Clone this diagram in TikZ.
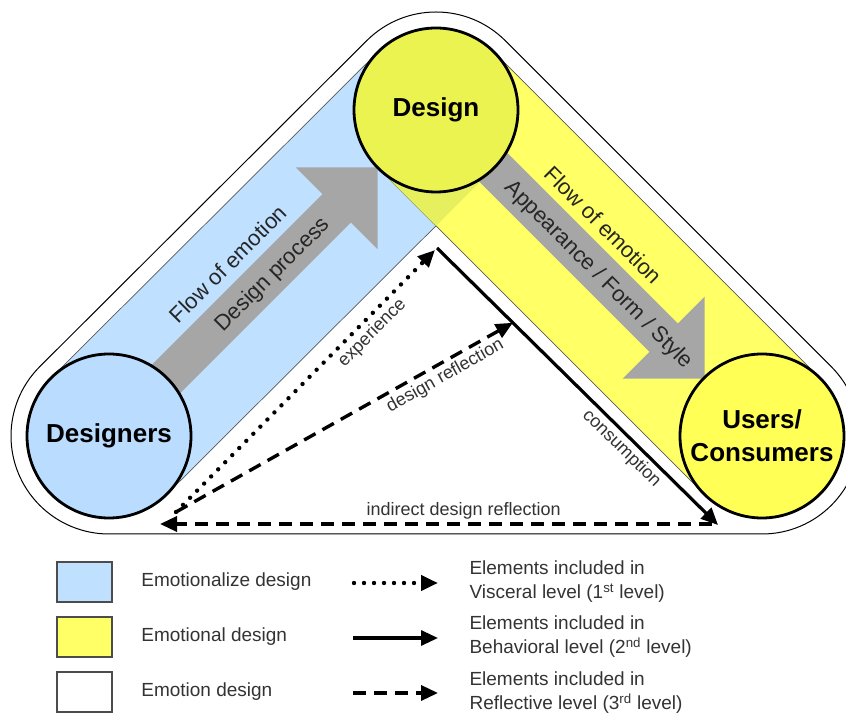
\documentclass[tikz,border=0pt]{standalone}
\usepackage{fontspec}
\setmainfont{Liberation Sans}
\usepackage{tikz}
\usetikzlibrary{arrows.meta, calc, positioning}
\usepackage{xcolor}

\definecolor{bandblue}{RGB}{192,224,255}
\definecolor{hubblue}{RGB}{185,220,255}
\definecolor{bandyellow}{RGB}{255,255,102}
\definecolor{hubyellow}{RGB}{255,255,85}
\definecolor{hubdesign}{RGB}{235,243,80}
\definecolor{overlapgreen}{RGB}{230,240,95}
\definecolor{flowgray}{RGB}{166,166,166}

\begin{document}
\begin{tikzpicture}[x=1pt,y=1pt,node distance=55pt,>={Triangle[length=17pt,width=15pt]}]
  \tikzstyle{hub}=[circle,draw,line width=2.8pt,minimum size=164pt,inner sep=0pt,
    font=\fontsize{26}{33}\selectfont\bfseries,align=center]
  \tikzstyle{bandtext}=[font=\fontsize{22}{26}\selectfont,text=black!85]
  \tikzstyle{lbl}=[font=\fontsize{18}{22}\selectfont,text=black!80]
  \tikzstyle{legtext}=[font=\fontsize{19}{24}\selectfont,text=black!80]
  \tikzstyle{dotline}=[line width=4.4pt,line cap=round,dash pattern=on 0pt off 10pt]
  \tikzstyle{dashline}=[line width=3.4pt,dash pattern=on 13pt off 8pt]
  \tikzstyle{solidline}=[line width=3.2pt]
  \tikzstyle{band}=[draw=black!65,line width=0.7pt]
  \tikzstyle{legbox}=[draw=black!70,line width=1.6pt,minimum width=55pt,minimum height=40pt]

  \useasboundingbox (0,0) rectangle (846,715);
  \clip (0,0) rectangle (846,715);

  % centres of the three hubs
  \coordinate (A) at (109,279);
  \coordinate (D) at (436,605);
  \coordinate (U) at (762,279);

  % outer outline
  \draw[line width=1pt,fill=white] ($(A)+(0,-98)$) -- ($(U)+(0,-98)$)
    arc[start angle=-90,end angle=45,radius=98] -- ($(D)+(45:98)$)
    arc[start angle=45,end angle=135,radius=98] -- ($(A)+(135:98)$)
    arc[start angle=135,end angle=270,radius=98] -- cycle;

  % bands
  \filldraw[band,fill=bandblue] ($(A)+(135:82)$) -- ($(D)+(135:82)$) -- ($(D)+(-45:82)$) -- ($(A)+(-45:82)$) -- cycle;
  \filldraw[band,fill=bandyellow] ($(D)+(45:82)$) -- ($(U)+(45:82)$) -- ($(U)+(-135:82)$) -- ($(D)+(-135:82)$) -- cycle;
  \begin{scope}
    \clip ($(A)+(135:82)$) -- ($(D)+(135:82)$) -- ($(D)+(-45:82)$) -- ($(A)+(-45:82)$) -- cycle;
    \fill[overlapgreen] ($(D)+(45:82)$) -- ($(U)+(45:82)$) -- ($(U)+(-135:82)$) -- ($(D)+(-135:82)$) -- cycle;
  \end{scope}

  % flow arrows
  \fill[flowgray,shift={(A)},rotate=45] (0,-20) -- (322,-20) -- (322,-58) -- (380,0) -- (322,58) -- (322,20) -- (0,20) -- cycle;
  \fill[flowgray,shift={(D)},rotate=-45] (0,-20) -- (322,-20) -- (322,-58) -- (380,0) -- (322,58) -- (322,20) -- (0,20) -- cycle;

  \node[bandtext,rotate=45]  (flowleft)   at (228,451) {Flow of emotion};
  \node[bandtext,rotate=45]  (process)    at (273,440) {Design process};
  \node[bandtext,rotate=-45] (flowright)  at (603,490) {Flow of emotion};
  \node[bandtext,rotate=-45] (appearance) at (598,440) {Appearance / Form / Style};

  % hubs
  \node[hub,fill=hubblue]   (designers) at (A) {Designers};
  \node[hub,fill=hubdesign] (design)    at (D) {Design};
  \node[hub,fill=hubyellow] (users)     at (U) {Users/\\Consumers};

  % triangle of emotion levels
  \coordinate (left)    at (160,191);
  \coordinate (leftin)  at (176,203);
  \coordinate (top)     at (437,467);
  \coordinate (topin)   at (435,465);
  \coordinate (right)   at (718,190);
  \coordinate (rightin) at (712,191);
  \coordinate (reflect) at ($(top)!0.27!(right)$);

  \path[->]
  (leftin)  edge [dotline]   node[lbl,sloped,below,pos=0.72] {experience}        (topin)
  (leftin)  edge [dashline]  node[lbl,sloped,below,pos=0.78] {design reflection} (reflect)
  (top)     edge [solidline] node[lbl,sloped,below,pos=0.69] {consumption}       (right)
  (rightin) edge [dashline]  node[lbl,above,pos=0.45] {indirect design reflection} (left)
  ;

  % legend
  \node[legbox,fill=bandblue]   (keyblue)   at (84.5,133) {};
  \node[legbox,fill=bandyellow] (keyyellow) [below of=keyblue]   {};
  \node[legbox,fill=white]      (keywhite)  [below of=keyyellow] {};

  \node[legtext] (nameblue)   [right=25pt of keyblue]   {Emotionalize design};
  \node[legtext] (nameyellow) [right=25pt of keyyellow] {Emotional design};
  \node[legtext] (namewhite)  [right=25pt of keywhite]  {Emotion design};

  \coordinate (keydot0)   at (354,132);  \coordinate (keydot1)   at (438,132);
  \coordinate (keysolid0) at (353,77);   \coordinate (keysolid1) at (438,77);
  \coordinate (keydash0)  at (353,22);   \coordinate (keydash1)  at (438,22);

  \path[->]
  (keydot0)   edge [dotline]   (keydot1)
  (keysolid0) edge [solidline] (keysolid1)
  (keydash0)  edge [dashline]  (keydash1)
  ;

  \node[legtext,anchor=west,align=left] (level1) at (466,133) {Elements included in\\Visceral level (1\textsuperscript{st} level)};
  \node[legtext,anchor=west,align=left] (level2) at (466,78)  {Elements included in\\Behavioral level (2\textsuperscript{nd} level)};
  \node[legtext,anchor=west,align=left] (level3) at (466,22)  {Elements included in\\Reflective level (3\textsuperscript{rd} level)};
\end{tikzpicture}
\end{document}
